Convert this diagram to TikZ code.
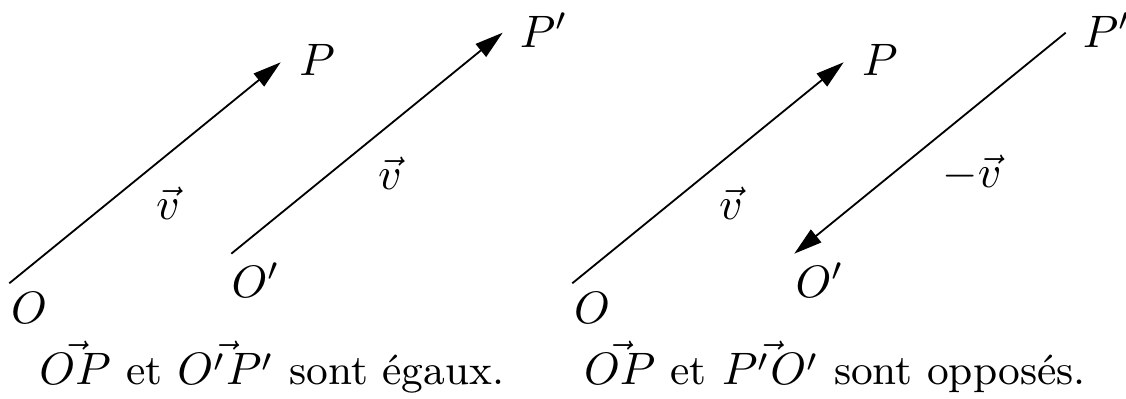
\documentclass[tikz,border=0pt]{standalone}
\usepackage{fontspec}
\usetikzlibrary{arrows.meta}
\newcommand{\captw}[1]{{\fontsize{9.3pt}{11pt}\selectfont #1}}
\begin{document}
\begin{tikzpicture}[x=0.22pt,y=-0.22pt,
  vec/.style={line width=0.4pt,-{Triangle[length=6.2pt,width=3.6pt]}},
  lbl/.style={inner sep=0pt},
  captext/.style={anchor=base,inner sep=0pt}]
\useasboundingbox (0,0) rectangle (1126,399);
% ---------- panel 1 ----------
\coordinate (aO) at (9.3,283.3);
\coordinate (aP) at (280.7,62.3);
\coordinate (aOp) at (231.3,253.7);
\coordinate (aPp) at (502.7,32.7);
\node[lbl] (aOl) at (29,308) {$O$};
\node[lbl] (aPl) at (317,60) {$P$};
\node[lbl] (aOpl) at (256,280) {$O'$};
\node[lbl] (aPpl) at (544,30) {$P'$};
\node[lbl] (av1) at (168,203) {$\vec{v}$};
\node[lbl] (av2) at (390,173) {$\vec{v}$};
\draw[vec] (aO) -- (aP);
\draw[vec] (aOp) -- (aPp);
\node[captext] (acap) at (272,385) {$\vec{OP}$ \captw{et} $\vec{O'P'}$ \captw{sont égaux.}};
% ---------- panel 2 ----------
\coordinate (bO) at (572.3,283.3);
\coordinate (bP) at (843.7,62.3);
\coordinate (bOp) at (794.3,253.7);
\coordinate (bPp) at (1065.7,32.7);
\node[lbl] (bOl) at (592,308) {$O$};
\node[lbl] (bPl) at (880,60) {$P$};
\node[lbl] (bOpl) at (820,280) {$O'$};
\node[lbl] (bPpl) at (1107,30) {$P'$};
\node[lbl] (bv1) at (731,203) {$\vec{v}$};
\node[lbl] (bv2) at (972,173) {$-\vec{v}$};
\draw[vec] (bO) -- (bP);
\draw[vec] (bPp) -- (bOp);
\node[captext] (bcap) at (835,385) {$\vec{OP}$ \captw{et} $\vec{P'O'}$ \captw{sont opposés.}};
\end{tikzpicture}
\end{document}
